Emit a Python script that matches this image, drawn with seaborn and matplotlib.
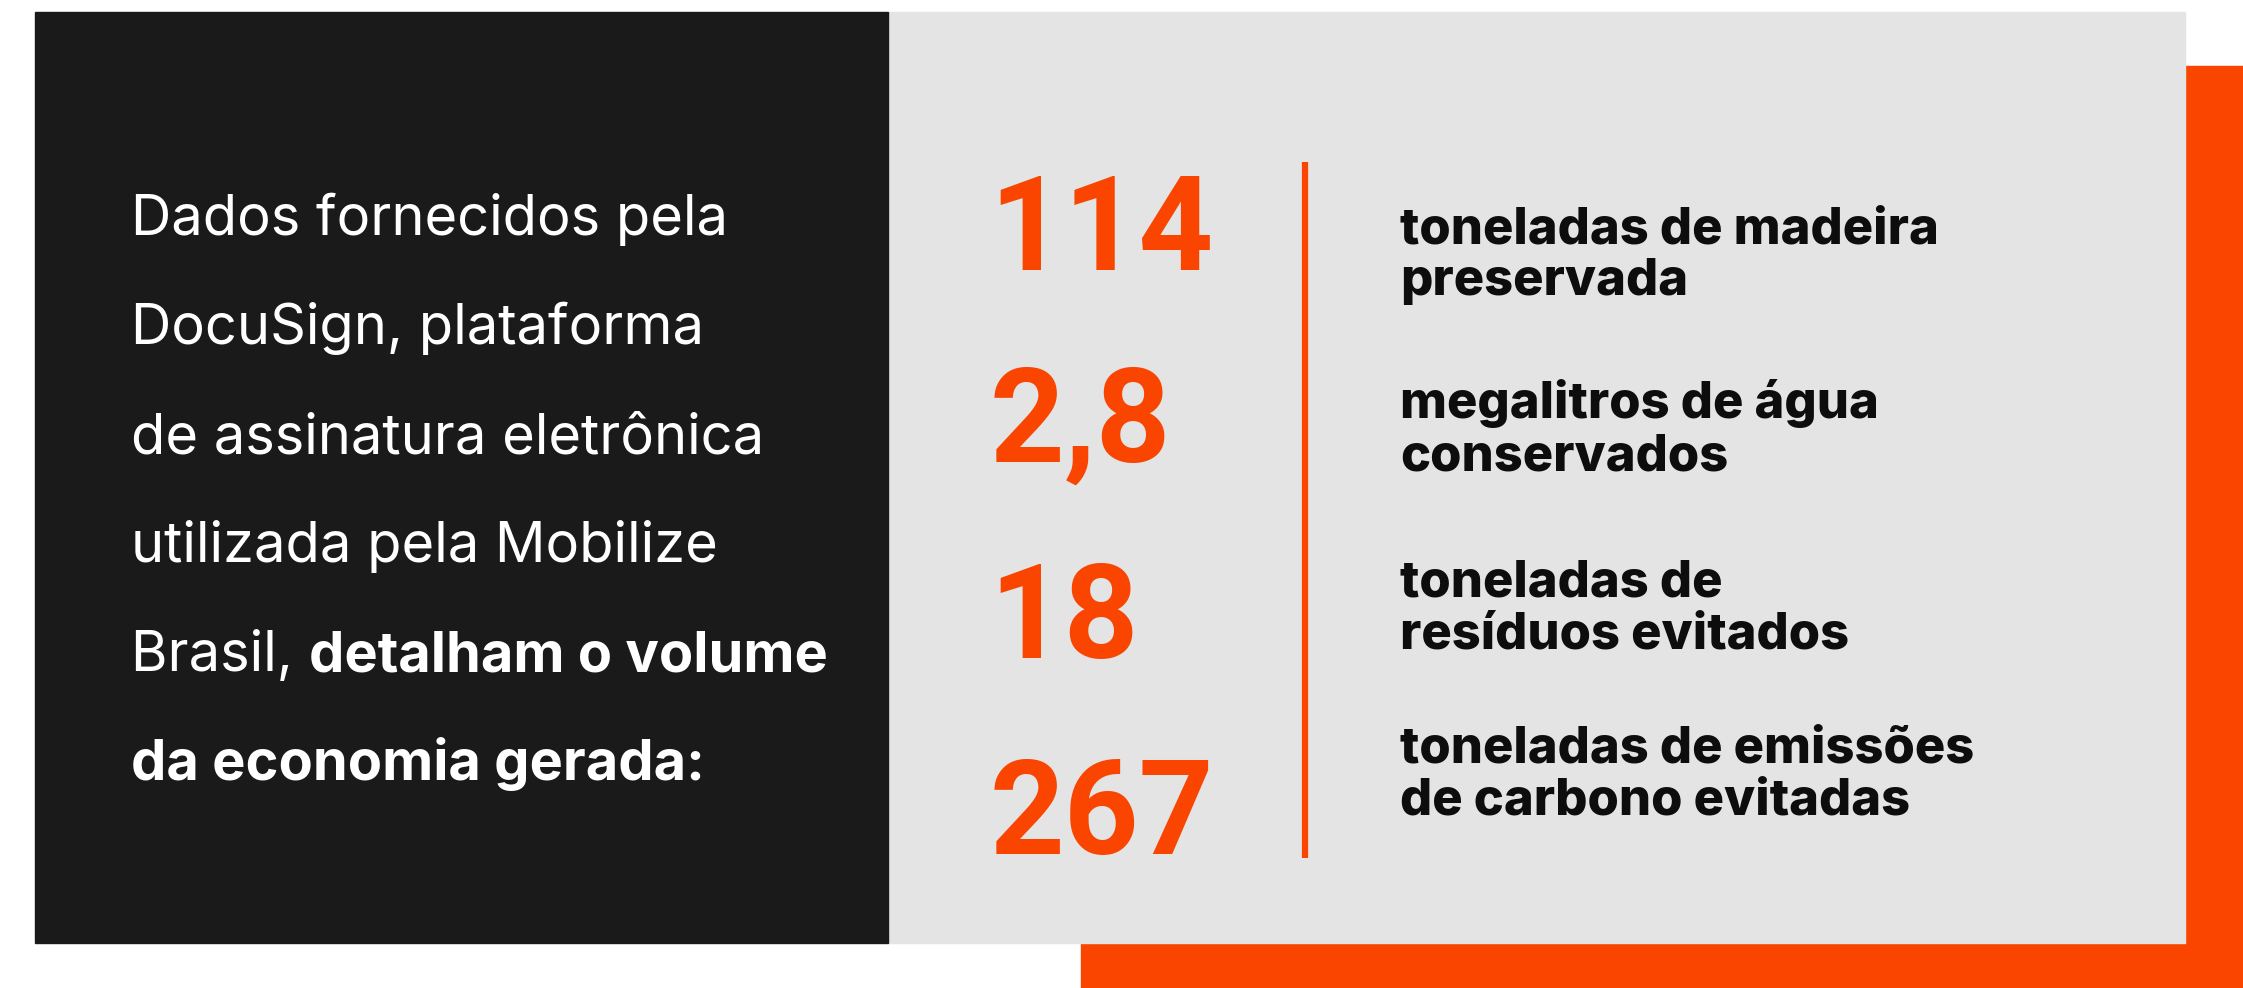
# Infográfico: economia gerada com assinatura eletrônica (DocuSign / Mobilize Brasil)
import matplotlib.pyplot as plt
import matplotlib.patches as patches
import seaborn as sns

# Dados
valores = ["114", "2,8", "18", "267"]
descricoes = [
    ["toneladas de madeira", "preservada"],
    ["megalitros de água", "conservados"],
    ["toneladas de", "resíduos evitados"],
    ["toneladas de emissões", "de carbono evitadas"],
]
texto_regular = [
    "Dados fornecidos pela",
    "DocuSign, plataforma",
    "de assinatura eletrônica",
    "utilizada pela Mobilize",
    "Brasil, ",
    "",
]
texto_negrito = ["", "", "", "", "detalham o volume", "da economia gerada:"]

# Cores
LARANJA = "#f94500"
ESCURO = "#1a1a1a"
CINZA = "#e4e4e4"

sns.set_theme(style="white")
plt.rcParams["font.family"] = ["Inter", "DejaVu Sans"]

W, H = 2243, 988
fig = plt.figure(figsize=(W / 100, H / 100), dpi=100)
ax = fig.add_axes([0, 0, 1, 1])
ax.set_xlim(0, W)
ax.set_ylim(H, 0)
ax.axis("off")

# Blocos de fundo
ax.add_patch(patches.Rectangle((1081, 66), W - 1081, H - 66, color=LARANJA, zorder=1))
ax.add_patch(patches.Rectangle((888, 12), 2185 - 888, 943 - 12, color=CINZA, zorder=2))
ax.add_patch(patches.Rectangle((35, 12), 888 - 35, 943 - 12, color=ESCURO, zorder=2))

# Linha vertical laranja
ax.plot([1305, 1305], [162, 858], color=LARANJA, lw=4.5, zorder=3, solid_capstyle="butt")

# Texto da esquerda
renderer = fig.canvas.get_renderer()
base_esq = 235
passo_esq = 109
for i, (reg, neg) in enumerate(zip(texto_regular, texto_negrito)):
    y = base_esq + i * passo_esq
    x = 131
    if reg:
        t = ax.text(x, y, reg, color="white", fontsize=40.3, va="baseline", ha="left", zorder=4)
        bb = t.get_window_extent(renderer)
        x = x + bb.width
    if neg:
        ax.text(x, y, neg, color="white", fontsize=40.3, fontweight="bold",
                va="baseline", ha="left", zorder=4)

# Números e descrições
base_num = [270, 462, 658, 854]
base_desc = [243, 418, 596, 762]
for i, v in enumerate(valores):
    ax.text(989, base_num[i], v, color=LARANJA, fontsize=94, fontweight="bold",
            family=["Roboto", "DejaVu Sans"], va="baseline", ha="left", zorder=4)
    for j, linha in enumerate(descricoes[i]):
        ax.text(1400, base_desc[i] + j * 52, linha, color="#0d0d0d", fontsize=36.5,
                fontweight="heavy", va="baseline", ha="left", zorder=4)

fig.savefig("out.png", dpi=100, facecolor="white")
